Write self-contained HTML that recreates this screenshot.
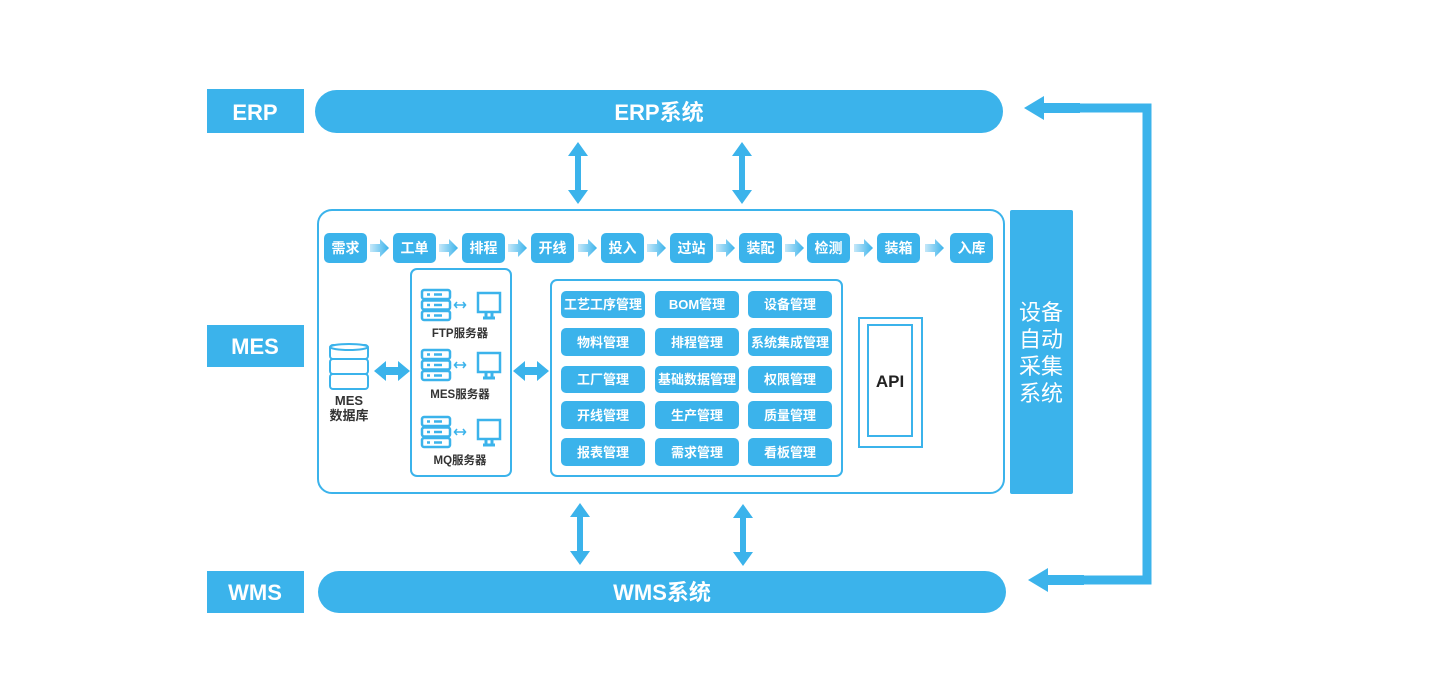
<!DOCTYPE html>
<html><head><meta charset="utf-8"><style>
html,body{margin:0;padding:0;background:#fff;}
svg{display:block;}
text{font-family:"Liberation Sans","Noto Sans CJK SC",sans-serif;}
</style></head><body>
<svg width="1441" height="700" viewBox="0 0 1441 700" xmlns="http://www.w3.org/2000/svg">
<defs>
<linearGradient id="ga" x1="0" x2="1" y1="0" y2="0">
<stop offset="0" stop-color="#c6e8f9"/><stop offset="1" stop-color="#3bb3eb"/>
</linearGradient>
<g id="pa"><path d="M0,-4 L10,-4 L10,-9 L19,0 L10,9 L10,4 L0,4 Z" fill="url(#ga)"/></g>
<g id="va"><path d="M0,0 L10,14 L3,14 L3,48 L10,48 L0,62 L-10,48 L-3,48 L-3,14 L-10,14 Z" fill="#3bb3eb"/></g>
<g id="ha"><path d="M0,0 L12,-10 L12,-4 L24,-4 L24,-10 L36,0 L24,10 L24,4 L12,4 L12,10 Z" fill="#3bb3eb"/></g>
<g id="srv" fill="none" stroke="#3bb3eb" stroke-width="2.5">
<rect x="0" y="0" width="28" height="9" rx="2"/><rect x="0" y="10.5" width="28" height="9" rx="2"/><rect x="0" y="21" width="28" height="9" rx="2"/>
<line x1="5" y1="4.5" x2="8" y2="4.5"/><line x1="12" y1="4.5" x2="20" y2="4.5"/>
<line x1="5" y1="15" x2="8" y2="15"/><line x1="12" y1="15" x2="20" y2="15"/>
<line x1="5" y1="25.5" x2="8" y2="25.5"/><line x1="12" y1="25.5" x2="20" y2="25.5"/>
<path d="M33,15 L43,15 M35,12 L32.5,15 L35,18 M41,12 L43.5,15 L41,18" stroke-width="1.6"/>
<rect x="56" y="3" width="22" height="19" stroke-width="2.5"/>
<path d="M64,22 L64,27 M70,22 L70,27 M61,28 L73,28" stroke-width="3"/>
</g>
</defs>

<!-- left labels -->
<rect x="207" y="89" width="97" height="44" fill="#3bb3eb"/>
<text x="255" y="120" font-size="22" font-weight="bold" fill="#fff" text-anchor="middle">ERP</text>
<rect x="207" y="325" width="97" height="42" fill="#3bb3eb"/>
<text x="255" y="354" font-size="22" font-weight="bold" fill="#fff" text-anchor="middle">MES</text>
<rect x="207" y="571" width="97" height="42" fill="#3bb3eb"/>
<text x="255" y="600" font-size="22" font-weight="bold" fill="#fff" text-anchor="middle">WMS</text>

<!-- pills -->
<rect x="315" y="90" width="688" height="43" rx="21.5" fill="#3bb3eb"/>
<text x="659" y="120" font-size="22" font-weight="bold" fill="#fff" text-anchor="middle">ERP系统</text>
<rect x="318" y="571" width="688" height="42" rx="21" fill="#3bb3eb"/>
<text x="662" y="600" font-size="22" font-weight="bold" fill="#fff" text-anchor="middle">WMS系统</text>

<!-- vertical arrows -->
<use href="#va" x="578" y="142"/>
<use href="#va" x="742" y="142"/>
<use href="#va" x="580" y="503"/>
<use href="#va" x="743" y="504"/>

<!-- loop -->
<path d="M1074,108 L1147,108 L1147,580 L1078,580" fill="none" stroke="#3bb3eb" stroke-width="9"/>
<path d="M1024,108 L1044,96 L1044,120 Z" fill="#3bb3eb"/>
<path d="M1028,580 L1048,568 L1048,592 Z" fill="#3bb3eb"/>
<rect x="1040" y="103" width="40" height="10" fill="#3bb3eb"/>
<rect x="1044" y="575" width="40" height="10" fill="#3bb3eb"/>

<!-- right bar -->
<rect x="1010" y="210" width="63" height="284" rx="2" fill="#3bb3eb"/>
<g font-size="22" fill="#fff" text-anchor="middle">
<text x="1041" y="320">设备</text><text x="1041" y="347">自动</text><text x="1041" y="374">采集</text><text x="1041" y="401">系统</text>
</g>

<!-- main box -->
<rect x="318" y="210" width="686" height="283" rx="14" fill="none" stroke="#3bb3eb" stroke-width="2"/>

<!-- process -->
<g font-size="14" font-weight="bold" fill="#fff" text-anchor="middle">
<rect x="324" y="233" width="43" height="30" rx="5" fill="#3bb3eb"/><text x="345.5" y="253">需求</text>
<rect x="393" y="233" width="43" height="30" rx="5" fill="#3bb3eb"/><text x="414.5" y="253">工单</text>
<rect x="462" y="233" width="43" height="30" rx="5" fill="#3bb3eb"/><text x="483.5" y="253">排程</text>
<rect x="531" y="233" width="43" height="30" rx="5" fill="#3bb3eb"/><text x="552.5" y="253">开线</text>
<rect x="601" y="233" width="43" height="30" rx="5" fill="#3bb3eb"/><text x="622.5" y="253">投入</text>
<rect x="670" y="233" width="43" height="30" rx="5" fill="#3bb3eb"/><text x="691.5" y="253">过站</text>
<rect x="739" y="233" width="43" height="30" rx="5" fill="#3bb3eb"/><text x="760.5" y="253">装配</text>
<rect x="807" y="233" width="43" height="30" rx="5" fill="#3bb3eb"/><text x="828.5" y="253">检测</text>
<rect x="877" y="233" width="43" height="30" rx="5" fill="#3bb3eb"/><text x="898.5" y="253">装箱</text>
<rect x="950" y="233" width="43" height="30" rx="5" fill="#3bb3eb"/><text x="971.5" y="253">入库</text>
</g>
<use href="#pa" x="370" y="248"/><use href="#pa" x="439" y="248"/><use href="#pa" x="508" y="248"/>
<use href="#pa" x="578" y="248"/><use href="#pa" x="647" y="248"/><use href="#pa" x="716" y="248"/>
<use href="#pa" x="785" y="248"/><use href="#pa" x="854" y="248"/><use href="#pa" x="925" y="248"/>

<!-- DB -->
<g fill="#fff" stroke="#3bb3eb" stroke-width="2">
<rect x="330" y="374" width="38" height="15" rx="3"/>
<rect x="330" y="359" width="38" height="15" rx="3"/>
<rect x="330" y="345" width="38" height="14" rx="3"/>
<ellipse cx="349" cy="347" rx="19" ry="3"/>
</g>
<g font-size="13" font-weight="bold" fill="#333" text-anchor="middle">
<text x="349" y="405">MES</text><text x="349" y="420">数据库</text>
</g>
<use href="#ha" x="374" y="371"/>
<use href="#ha" x="513" y="371"/>

<!-- servers -->
<rect x="411" y="269" width="100" height="207" rx="6" fill="none" stroke="#3bb3eb" stroke-width="2"/>
<use href="#srv" x="422" y="290"/>
<use href="#srv" x="422" y="350"/>
<use href="#srv" x="422" y="417"/>
<g font-size="11.5" font-weight="bold" fill="#333" text-anchor="middle">
<text x="460" y="337">FTP服务器</text><text x="460" y="398">MES服务器</text><text x="460" y="464">MQ服务器</text>
</g>

<!-- modules -->
<rect x="551" y="280" width="291" height="196" rx="6" fill="none" stroke="#3bb3eb" stroke-width="2"/>
<g fill="#3bb3eb">
<rect x="561" y="291" width="84" height="27" rx="5"/><rect x="655" y="291" width="84" height="27" rx="5"/><rect x="748" y="291" width="84" height="27" rx="5"/>
<rect x="561" y="328" width="84" height="28" rx="5"/><rect x="655" y="328" width="84" height="28" rx="5"/><rect x="748" y="328" width="84" height="28" rx="5"/>
<rect x="561" y="366" width="84" height="27" rx="5"/><rect x="655" y="366" width="84" height="27" rx="5"/><rect x="748" y="366" width="84" height="27" rx="5"/>
<rect x="561" y="401" width="84" height="28" rx="5"/><rect x="655" y="401" width="84" height="28" rx="5"/><rect x="748" y="401" width="84" height="28" rx="5"/>
<rect x="561" y="438" width="84" height="28" rx="5"/><rect x="655" y="438" width="84" height="28" rx="5"/><rect x="748" y="438" width="84" height="28" rx="5"/>
</g>
<g font-size="13" font-weight="bold" fill="#fff" text-anchor="middle">
<text x="603" y="309">工艺工序管理</text><text x="697" y="309">BOM管理</text><text x="790" y="309">设备管理</text>
<text x="603" y="347">物料管理</text><text x="697" y="347">排程管理</text><text x="790" y="347">系统集成管理</text>
<text x="603" y="384">工厂管理</text><text x="697" y="384">基础数据管理</text><text x="790" y="384">权限管理</text>
<text x="603" y="420">开线管理</text><text x="697" y="420">生产管理</text><text x="790" y="420">质量管理</text>
<text x="603" y="457">报表管理</text><text x="697" y="457">需求管理</text><text x="790" y="457">看板管理</text>
</g>

<!-- API -->
<rect x="859" y="318" width="63" height="129" fill="none" stroke="#3bb3eb" stroke-width="2"/>
<rect x="868" y="325" width="44" height="111" fill="none" stroke="#3bb3eb" stroke-width="2"/>
<text x="890" y="387" font-size="17" font-weight="bold" fill="#222" text-anchor="middle">API</text>
</svg>
</body></html>
